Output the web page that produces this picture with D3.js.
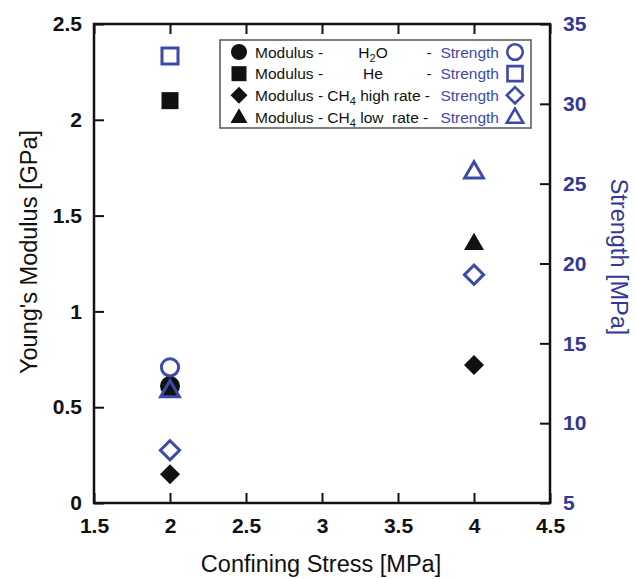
<!DOCTYPE html>
<html>
<head>
<meta charset="utf-8">
<script src="https://cdn.jsdelivr.net/npm/d3@7"></script>
<style>
  html, body { margin: 0; padding: 0; background: #fff; }
  svg { display: block; font-family: "Liberation Sans", Arial, Helvetica, sans-serif; }
</style>
</head>
<body>
<svg id="chart" width="636" height="579"></svg>
<script>
// Confining stress (MPa) at which each fluid was tested
const h2oStress = [2];
const heStress = [2];
const ch4HighStress = [2, 4];
const ch4LowStress = [2, 4];

// Young's modulus (GPa)
const h2oModulus = [0.61];
const heModulus = [2.10];
const ch4HighModulus = [0.15, 0.72];
const ch4LowModulus = [0.58, 1.35];

// Strength (MPa)
const h2oStrength = [13.5];
const heStrength = [33.0];
const ch4HighStrength = [8.3, 19.3];
const ch4LowStrength = [12.0, 25.7];

// Tick values
const xTicks = [1.5, 2, 2.5, 3, 3.5, 4, 4.5];
const modulusTicks = [0, 0.5, 1, 1.5, 2, 2.5];
const strengthTicks = [5, 10, 15, 20, 25, 30, 35];

const BLACK = "#111";
const BLUE = "#3d4aa8";
const AXIS_BLUE = "#323893";

const svg = d3.select("#chart");
const plotL = 94, plotR = 550, plotT = 24, plotB = 503;

const x = d3.scaleLinear().domain([1.5, 4.5]).range([plotL, plotR]);
const yMod = d3.scaleLinear().domain([0, 2.5]).range([plotB, plotT]);
const yStr = d3.scaleLinear().domain([5, 35]).range([plotB, plotT]);

// Marker shapes, r = half width
function shapePath(shape, r) {
  const p = d3.path();
  if (shape === "circle") {
    p.arc(0, 0, r, 0, 2 * Math.PI);
  } else if (shape === "square") {
    p.rect(-r, -r, 2 * r, 2 * r);
  } else if (shape === "diamond") {
    p.moveTo(0, -r); p.lineTo(r, 0); p.lineTo(0, r); p.lineTo(-r, 0); p.closePath();
  } else if (shape === "triangle") {
    const h = r * Math.sqrt(3);
    p.moveTo(0, -2 * h / 3); p.lineTo(r, h / 3); p.lineTo(-r, h / 3); p.closePath();
  }
  return p.toString();
}

const series = [
  { shape: "circle", stress: h2oStress, modulus: h2oModulus, strength: h2oStrength },
  { shape: "square", stress: heStress, modulus: heModulus, strength: heStrength },
  { shape: "diamond", stress: ch4HighStress, modulus: ch4HighModulus, strength: ch4HighStrength },
  { shape: "triangle", stress: ch4LowStress, modulus: ch4LowModulus, strength: ch4LowStrength }
];

const filledSize = { circle: 10, square: 8.5, diamond: 10, triangle: 10 };
const openSize = { circle: 8.6, square: 8, diamond: 9.6, triangle: 9.4 };

// Axes (ticks point inward)
const axisFont = g => g.selectAll("text")
  .attr("font-size", 21).attr("font-weight", "bold")
  .attr("font-family", "'Liberation Sans', Arial, Helvetica, sans-serif");
const tickStyle = g => {
  g.select(".domain").remove();
  g.selectAll(".tick line").attr("stroke", BLACK).attr("stroke-width", 2);
};

svg.append("g").attr("transform", `translate(${plotL},0)`)
  .call(d3.axisLeft(yMod).tickValues(modulusTicks).tickSize(-10).tickPadding(12).tickFormat(d3.format("")))
  .call(tickStyle).call(axisFont)
  .selectAll("text").attr("fill", BLACK);

svg.append("g").attr("transform", `translate(${plotR},0)`)
  .call(d3.axisRight(yStr).tickValues(strengthTicks).tickSize(-10).tickPadding(13).tickFormat(d3.format("")))
  .call(tickStyle).call(axisFont)
  .selectAll("text").attr("fill", AXIS_BLUE);

svg.append("g").attr("transform", `translate(0,${plotB})`)
  .call(d3.axisBottom(x).tickValues(xTicks).tickSize(-10).tickPadding(15).tickFormat(d3.format("")))
  .call(tickStyle).call(axisFont)
  .selectAll("text").attr("fill", BLACK);

svg.append("g").attr("transform", `translate(0,${plotT})`)
  .call(d3.axisTop(x).tickValues(xTicks).tickSize(-10).tickFormat(""))
  .call(tickStyle);

// Plot frame
svg.append("rect")
  .attr("x", plotL).attr("y", plotT)
  .attr("width", plotR - plotL).attr("height", plotB - plotT)
  .attr("fill", "none").attr("stroke", BLACK).attr("stroke-width", 2.5);

// Axis titles
svg.append("text")
  .attr("transform", `translate(${(plotL + plotR) / 2 - 1},572) `)
  .attr("text-anchor", "middle").attr("font-size", 23.5).attr("fill", BLACK)
  .text("Confining Stress [MPa]");

svg.append("text")
  .attr("transform", `translate(37,252) rotate(-90)`)
  .attr("text-anchor", "middle").attr("font-size", 23.5).attr("fill", BLACK)
  .text("Young's Modulus [GPa]");

svg.append("text")
  .attr("transform", `translate(611,257) rotate(90)`)
  .attr("text-anchor", "middle").attr("font-size", 23.5).attr("fill", AXIS_BLUE)
  .text("Strength [MPa]");

// Data markers: filled black = modulus, open blue = strength
const marks = svg.append("g");
series.forEach(s => {
  s.stress.forEach((xv, i) => {
    marks.append("path")
      .attr("d", shapePath(s.shape, filledSize[s.shape]))
      .attr("transform", `translate(${x(xv)},${yMod(s.modulus[i])})`)
      .attr("fill", BLACK);
  });
});
series.forEach(s => {
  s.stress.forEach((xv, i) => {
    marks.append("path")
      .attr("d", shapePath(s.shape, openSize[s.shape]))
      .attr("transform", `translate(${x(xv)},${yStr(s.strength[i])})`)
      .attr("fill", "none").attr("stroke", BLUE).attr("stroke-width", 3);
  });
});

// Legend
const legend = svg.append("g");
legend.append("rect")
  .attr("x", 220).attr("y", 40).attr("width", 311).attr("height", 88)
  .attr("fill", "#fff").attr("stroke", "#555").attr("stroke-width", 1.5);

const legendRows = [
  { shape: "circle", label: [["H", false], ["2", true], ["O", false]], centered: true },
  { shape: "square", label: [["He", false]], centered: true },
  { shape: "diamond", label: [["Modulus - CH", false], ["4", true], [" high rate -", false]], centered: false },
  { shape: "triangle", label: [["Modulus - CH", false], ["4", true], [" low\u00a0 rate -", false]], centered: false }
];
const legFilled = { circle: 8, square: 7.5, diamond: 8.5, triangle: 8.5 };
const legOpen = { circle: 7.8, square: 7.5, diamond: 8.2, triangle: 8.2 };
const rowY = d3.scalePoint().domain(d3.range(legendRows.length)).range([52, 117]);

legendRows.forEach((row, i) => {
  const cy = rowY(i);
  legend.append("path")
    .attr("d", shapePath(row.shape, legFilled[row.shape]))
    .attr("transform", `translate(239,${cy + (row.shape === "triangle" ? 1 : 0)})`)
    .attr("fill", BLACK);
  legend.append("path")
    .attr("d", shapePath(row.shape, legOpen[row.shape]))
    .attr("transform", `translate(515,${cy + (row.shape === "triangle" ? 1 : 0)})`)
    .attr("fill", "none").attr("stroke", BLUE).attr("stroke-width", 2.6);

  const base = cy + 5.5;
  if (row.centered) {
    legend.append("text").attr("x", 255).attr("y", base)
      .attr("font-size", 15.5).attr("fill", BLACK).text("Modulus -");
    const t = legend.append("text").attr("x", 373).attr("y", base)
      .attr("text-anchor", "middle").attr("font-size", 15.5).attr("fill", BLACK);
    row.label.forEach(([str, sub], k) => {
      t.append("tspan").text(str)
        .attr("font-size", sub ? 11 : 15.5)
        .attr("dy", sub ? 4 : (k > 0 ? -4 : 0));
    });
    legend.append("text").attr("x", 429).attr("y", base)
      .attr("text-anchor", "middle").attr("font-size", 15.5).attr("fill", BLACK).text("-");
  } else {
    const t = legend.append("text").attr("x", 255).attr("y", base)
      .attr("font-size", 15.5).attr("fill", BLACK);
    row.label.forEach(([str, sub], k) => {
      t.append("tspan").text(str)
        .attr("font-size", sub ? 11 : 15.5)
        .attr("dy", sub ? 4 : (k > 0 ? -4 : 0));
    });
  }
  legend.append("text").attr("x", 499).attr("y", base)
    .attr("text-anchor", "end").attr("font-size", 15.5).attr("fill", BLUE).text("Strength");
});
</script>
</body>
</html>
